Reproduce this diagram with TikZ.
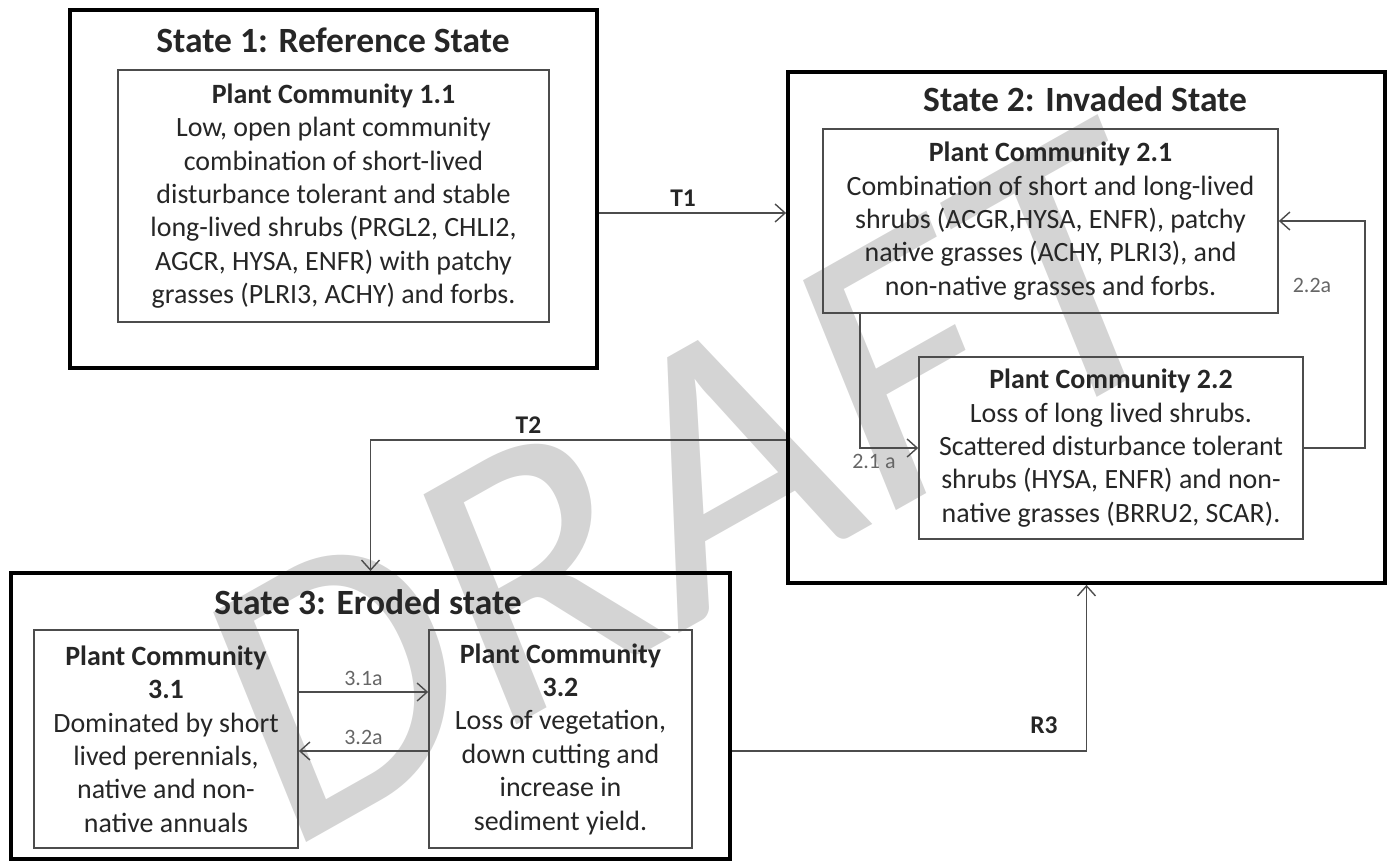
\documentclass[tikz,border=0pt]{standalone}
\usepackage{fontspec}
\setmainfont{Carlito}
\usetikzlibrary{arrows.meta}

\begin{document}
\begin{tikzpicture}[x=0.02cm, y=-0.02cm, line join=miter,
state box/.style={rectangle,draw,line width=2.2pt,inner sep=0pt},
pc box/.style={rectangle,draw=black!70,line width=1pt,align=center,inner sep=0pt,text=black!85,font=\fontsize{15.9}{19}\selectfont},
state title/.style={text=black!85,font=\fontsize{20.2}{24}\selectfont\bfseries},
trans/.style={draw=black!70,line width=0.8pt,-{Straight Barb[length=2mm,width=3.6mm]}},
big label/.style={text=black!85,font=\fontsize{14.5}{16}\selectfont\bfseries},
small label/.style={text=black!60,font=\fontsize{12.5}{14}\selectfont}]%
\useasboundingbox (0,0) rectangle (1393,868);
\node[text=black!17, rotate=22, yslant=0.13, font=\fontsize{220}{220}\selectfont] (draft) at (693,484) {DRAFT};
\begin{scope}
\node[state box, minimum width=10.54cm, minimum height=7.16cm] (s1) at (333.5,189) {};
\node[state box, minimum width=11.94cm, minimum height=10.22cm] (s2) at (1086.5,327.5) {};
\node[state box, minimum width=14.38cm, minimum height=5.72cm] (s3) at (370.5,716) {};
\node[state title] (s1t) at (333,40) {State 1: Reference State};
\node[state title] (s2t) at (1085,99) {State 2: Invaded State};
\node[state title] (s3t) at (368,602) {State 3: Eroded state};
\end{scope}
\begin{scope}
\node[pc box, minimum width=8.62cm, minimum height=5.04cm] (pc11) at (333.5,196) {\textbf{Plant Community 1.1}\\Low, open plant community\\combination of short-lived\\disturbance tolerant and stable\\long-lived shrubs (PRGL2, CHLI2,\\AGCR, HYSA, ENFR) with patchy\\grasses (PLRI3, ACHY) and forbs.};
\node[pc box, minimum width=9.1cm, minimum height=3.68cm] (pc21) at (1050.5,221) {\textbf{Plant Community 2.1}\\Combination of short and long-lived\\shrubs (ACGR,HYSA, ENFR), patchy\\native grasses (ACHY, PLRI3), and\\non-native grasses and forbs.};
\node[pc box, minimum width=7.68cm, minimum height=3.64cm] (pc22) at (1111,448) {\textbf{Plant Community 2.2}\\Loss of long lived shrubs.\\Scattered disturbance tolerant\\shrubs (HYSA, ENFR) and non-\\native grasses (BRRU2, SCAR).};
\node[pc box, minimum width=5.28cm, minimum height=4.36cm] (pc31) at (166,739) {\textbf{Plant Community}\\\textbf{3.1}\\Dominated by short\\lived perennials,\\native and non-\\native annuals};
\node[pc box, minimum width=5.26cm, minimum height=4.36cm] (pc32) at (560.5,739) {\textbf{Plant Community}\\\textbf{3.2}\\Loss of vegetation,\\down cutting and\\increase in\\sediment yield.};
%\node[pc box] (pc) at (,) {};
\end{scope}
\begin{scope}
\draw[trans] (s1.east |- 0,213) -- node[big label, above, pos=0.45]{T1} (s2.west |- 0,213);
\draw[trans] (s2.west |- 0,440) -| node[big label, above, pos=0.31]{T2} (s3.north);
\draw[trans] (s3.east |- 0,751) -| node[big label, above=6pt, pos=0.44]{R3} (s2.south);
\draw[trans] (pc21.south -| 860,0) |- node[small label, below, pos=0.62]{2.1 a} (pc22.west);
\draw[trans] (pc22.east) -- (1365,448) |- (pc21.east);
\node[small label] (l22) at (1312,285) {2.2a};
\draw[trans] (pc31.east |- 0,692) -- node[small label, above]{3.1a} (pc32.west |- 0,692);
\draw[trans] (pc32.west |- 0,751) -- node[small label, above]{3.2a} (pc31.east |- 0,751);
%\draw[trans] (a) -- (b);
\end{scope}
\end{tikzpicture}
\end{document}
